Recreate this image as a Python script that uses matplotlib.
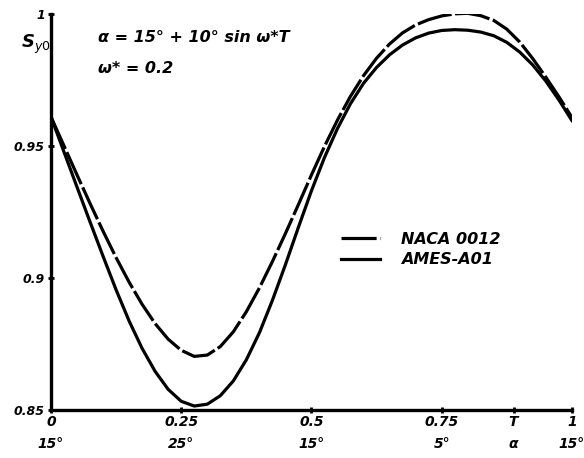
import numpy as np
import matplotlib
matplotlib.use('Agg')
import matplotlib.pyplot as plt

# values, T = 0 ... 1 in steps of 0.025
T = np.linspace(0, 1, 41)
naca0012 = [0.9610, 0.9500, 0.9390, 0.9282, 0.9177, 0.9077, 0.8984, 0.8900, 0.8827,
            0.8768, 0.8726, 0.8703, 0.8708, 0.8740, 0.8796, 0.8872, 0.8962, 0.9062,
            0.9168, 0.9278, 0.9390, 0.9498, 0.9598, 0.9688, 0.9766, 0.9832, 0.9886,
            0.9928, 0.9958, 0.9978, 0.9992, 1.0000, 1.0002, 0.9993, 0.9975, 0.9942,
            0.9893, 0.9830, 0.9760, 0.9686, 0.9608]
ames_a01 = [0.9610, 0.9477, 0.9344, 0.9212, 0.9082, 0.8955, 0.8837, 0.8733, 0.8646,
            0.8578, 0.8533, 0.8515, 0.8522, 0.8554, 0.8610, 0.8690, 0.8792, 0.8915,
            0.9050, 0.9192, 0.9330, 0.9456, 0.9566, 0.9660, 0.9737, 0.9797, 0.9845,
            0.9882, 0.9909, 0.9927, 0.9937, 0.9940, 0.9938, 0.9931, 0.9917, 0.9892,
            0.9855, 0.9806, 0.9745, 0.9674, 0.9596]

xticks = [0, 0.25, 0.5, 0.75, 0.888, 1]
xlabels = ['0\n15°', '0.25\n25°', '0.5\n15°', '0.75\n5°', 'T\nα', '1\n15°']
yticks = [0.85, 0.9, 0.95, 1.0]
ylabels = ['0.85', '0.9', '0.95', '1']

font = dict(family=['DejaVu Sans'], weight='bold', style='italic')

fig = plt.figure(figsize=(5.84, 4.58), dpi=100)
ax = fig.add_axes([0.0873, 0.1048, 0.892, 0.865])

ln, = ax.plot(T, naca0012, 'k-', lw=2.3, label='NACA 0012')
ln.set_dashes([11, 1.1])
ax.plot(T, ames_a01, 'k-', lw=2.3, label='AMES-A01')

ax.set_xlim(0, 1)
ax.set_ylim(0.85, 1.0)
for s in ['top', 'right']:
    ax.spines[s].set_visible(False)
for s in ['left', 'bottom']:
    ax.spines[s].set_linewidth(2.4)

ax.set_xticks(xticks)
ax.set_xticklabels(xlabels, fontsize=10, linespacing=1.7, **font)
ax.set_yticks(yticks)
ax.set_yticklabels(ylabels, fontsize=9, **font)
ax.tick_params(direction='inout', length=5, width=2, pad=2)
ax.tick_params(axis='x', pad=1)

ax.text(-0.057, 0.915, r'S$_{y0}$', transform=ax.transAxes, fontsize=13, **font)
ax.text(0.09, 0.93, 'α = 15° + 10° sin ω*T', transform=ax.transAxes, fontsize=11.5, **font)
ax.text(0.09, 0.85, 'ω* = 0.2', transform=ax.transAxes, fontsize=11.5, **font)

ax.legend(loc='center left', bbox_to_anchor=(0.53, 0.405), frameon=False,
          handlelength=2.4, handletextpad=1.3, labelspacing=0.35,
          prop=dict(size=11.5, **font))

fig.savefig('out.png', dpi=100)
